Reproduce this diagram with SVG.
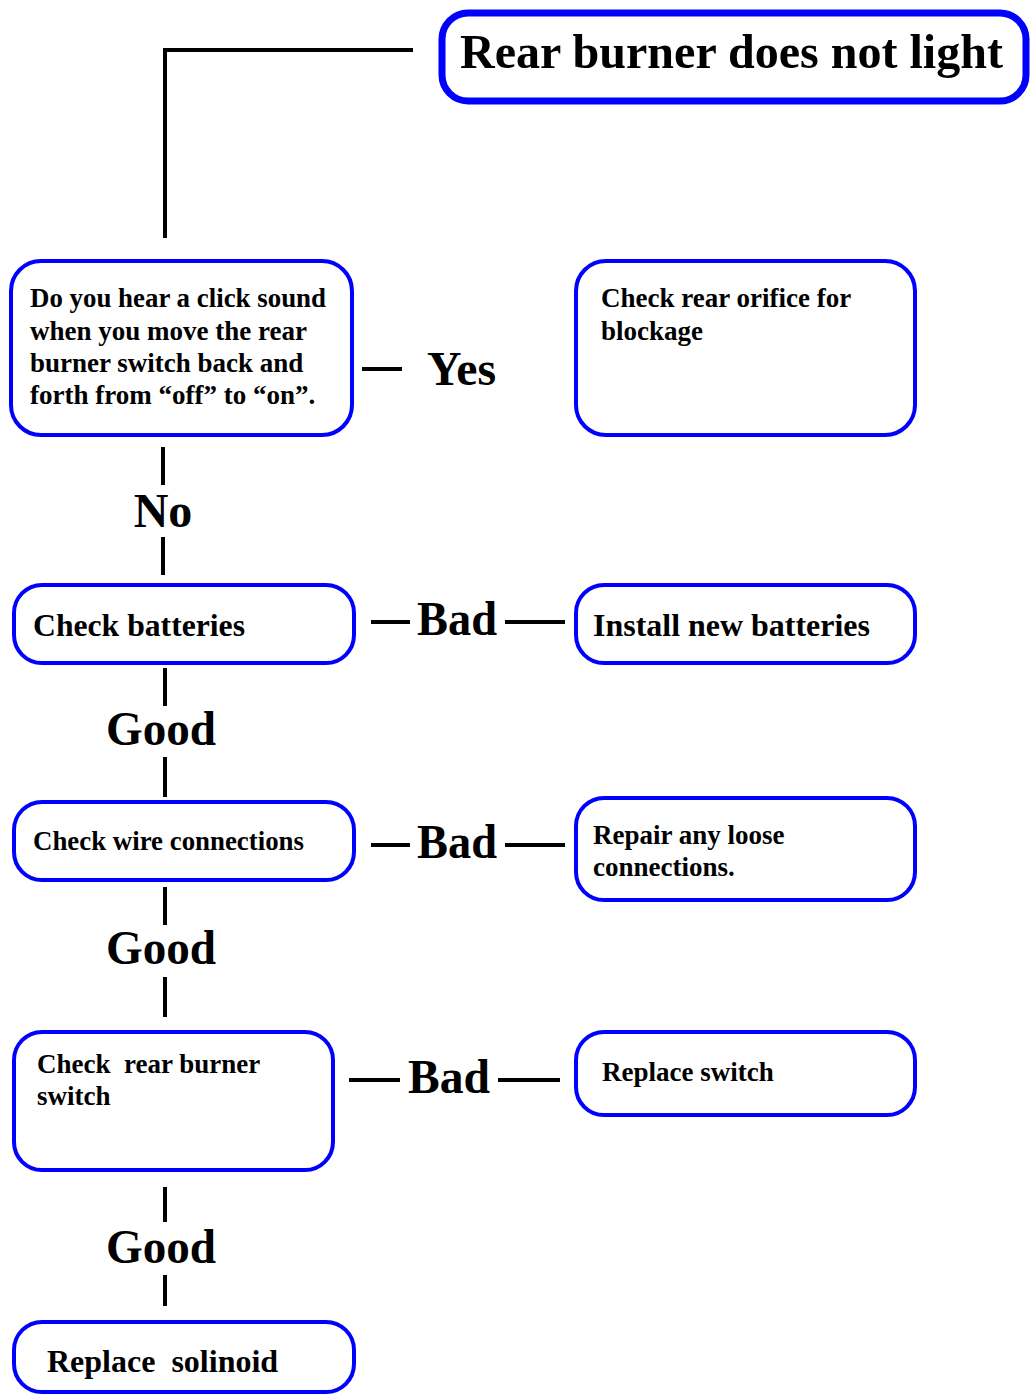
<svg xmlns="http://www.w3.org/2000/svg" width="1030" height="1395" viewBox="0 0 1030 1395">
<style>
.box{fill:#fff;stroke:#0000ff;stroke-width:4}
.title{fill:#fff;stroke:#0000ff;stroke-width:7}
.ln{stroke:#000;stroke-width:4;fill:none}
text{font-family:"Liberation Serif","Times New Roman",serif;font-weight:bold;fill:#000}
.t24{font-size:27px}
.t29{font-size:32px}
.lbl{font-size:48px}
</style>
<rect width="1030" height="1395" fill="#fff"/>
<g id="connectors">
<polyline class="ln" points="413,50 165,50 165,238"/>
<line class="ln" x1="362" y1="369" x2="402" y2="369"/>
<line class="ln" x1="163" y1="447" x2="163" y2="485"/>
<line class="ln" x1="163" y1="537" x2="163" y2="575"/>
<line class="ln" x1="371" y1="622" x2="410" y2="622"/>
<line class="ln" x1="505" y1="622" x2="565" y2="622"/>
<line class="ln" x1="165" y1="668" x2="165" y2="706"/>
<line class="ln" x1="165" y1="757" x2="165" y2="797"/>
<line class="ln" x1="371" y1="845" x2="410" y2="845"/>
<line class="ln" x1="505" y1="845" x2="565" y2="845"/>
<line class="ln" x1="165" y1="887" x2="165" y2="925"/>
<line class="ln" x1="165" y1="977" x2="165" y2="1017"/>
<line class="ln" x1="349" y1="1080" x2="400" y2="1080"/>
<line class="ln" x1="498" y1="1080" x2="560" y2="1080"/>
<line class="ln" x1="165" y1="1187" x2="165" y2="1222"/>
<line class="ln" x1="165" y1="1275" x2="165" y2="1306"/>
<text class="lbl" x="427" y="385" textLength="69" lengthAdjust="spacingAndGlyphs">Yes</text>
<text class="lbl" x="163" y="527" text-anchor="middle">No</text>
<text class="lbl" x="417" y="635" textLength="80" lengthAdjust="spacingAndGlyphs">Bad</text>
<text class="lbl" x="106" y="745" textLength="110" lengthAdjust="spacingAndGlyphs">Good</text>
<text class="lbl" x="417" y="858" textLength="80" lengthAdjust="spacingAndGlyphs">Bad</text>
<text class="lbl" x="106" y="964" textLength="110" lengthAdjust="spacingAndGlyphs">Good</text>
<text class="lbl" x="408" y="1093" textLength="82" lengthAdjust="spacingAndGlyphs">Bad</text>
<text class="lbl" x="106" y="1263" textLength="110" lengthAdjust="spacingAndGlyphs">Good</text>
</g>
<g id="title">
<rect class="title" x="442" y="13" width="584" height="88" rx="26"/>
<text x="460" y="68" font-size="48" textLength="543" lengthAdjust="spacingAndGlyphs">Rear burner does not light</text>
</g>
<g id="q-click">
<rect class="box" x="11" y="261" width="341" height="174" rx="30"/>
<text class="t24" x="30" y="307" textLength="296" lengthAdjust="spacingAndGlyphs">Do you hear a click sound</text>
<text class="t24" x="30" y="340">when you move the rear</text>
<text class="t24" x="30" y="372">burner switch back and</text>
<text class="t24" x="30" y="404">forth from “off” to “on”.</text>
</g>
<g id="orifice">
<rect class="box" x="576" y="261" width="339" height="174" rx="30"/>
<text class="t24" x="601" y="307">Check rear orifice for</text>
<text class="t24" x="601" y="340">blockage</text>
</g>
<g id="batteries">
<rect class="box" x="14" y="585" width="340" height="78" rx="28"/>
<text class="t29" x="33" y="636" textLength="212" lengthAdjust="spacingAndGlyphs">Check batteries</text>
</g>
<g id="new-batteries">
<rect class="box" x="576" y="585" width="339" height="78" rx="28"/>
<text class="t29" x="593" y="636" textLength="277" lengthAdjust="spacingAndGlyphs">Install new batteries</text>
</g>
<g id="wires">
<rect class="box" x="14" y="802" width="340" height="78" rx="28"/>
<text class="t24" x="33" y="850" textLength="271" lengthAdjust="spacingAndGlyphs">Check wire connections</text>
</g>
<g id="repair">
<rect class="box" x="576" y="798" width="339" height="102" rx="28"/>
<text class="t24" x="593" y="844">Repair any loose</text>
<text class="t24" x="593" y="876">connections.</text>
</g>
<g id="switch">
<rect class="box" x="14" y="1032" width="319" height="138" rx="28"/>
<text class="t24" x="37" y="1073" xml:space="preserve">Check  rear burner</text>
<text class="t24" x="37" y="1105">switch</text>
</g>
<g id="replace-switch">
<rect class="box" x="576" y="1032" width="339" height="83" rx="28"/>
<text class="t24" x="602" y="1081">Replace switch</text>
</g>
<g id="solenoid">
<rect class="box" x="14" y="1322" width="340" height="70" rx="28"/>
<text class="t29" x="47" y="1372" xml:space="preserve">Replace  solinoid</text>
</g>
</svg>
